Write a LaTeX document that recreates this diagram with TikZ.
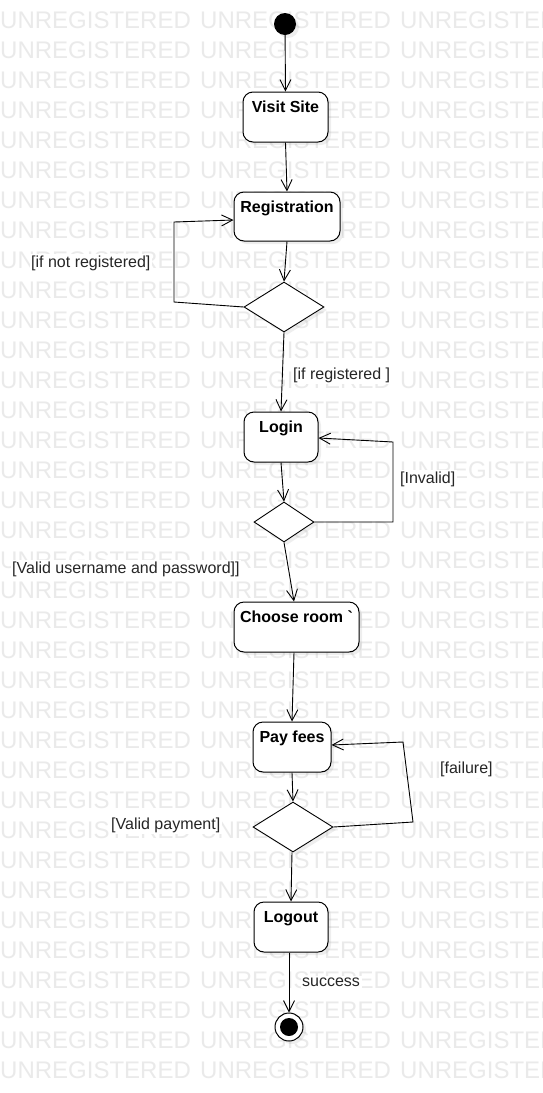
\documentclass[tikz,border=0pt]{standalone}
\usepackage{fontspec}
\setmainfont{Liberation Sans}
\usetikzlibrary{arrows.meta,shapes.geometric,shadows,calc}
\definecolor{wm}{RGB}{234,234,234}
\newcommand{\plaingrave}{\XeTeXglyph\XeTeXcharglyph"0060\relax}
\begin{document}
\begin{tikzpicture}[x=1pt,y=-1pt,
  shade/.style={drop shadow={shadow xshift=3pt,shadow yshift=-3pt,opacity=0.13}},
  act/.style={draw, rounded corners=10pt, fill=white, line width=1pt, inner sep=0pt, shade},
  dec/.style={diamond, draw, fill=white, line width=0.9pt, inner sep=0pt, shade},
  acttext/.style={font=\bfseries\fontsize{16}{19}\selectfont, anchor=base, inner sep=0pt},
  lbl/.style={font=\fontsize{16}{19}\selectfont, anchor=base west, inner sep=1.5pt, fill=white, text=black!85},
  flow/.style={draw, line width=0.9pt, -{Straight Barb[length=11pt,width=11pt,line width=0.9pt]}},
  wmtext/.style={font=\fontsize{24}{28}\selectfont, anchor=base west, inner sep=0pt, text=wm}
]
\useasboundingbox (0,0) rectangle (542,1093);
\fill[white] (0,0) rectangle (542,1093);
% watermark
\begin{scope}
\clip (0,0) rectangle (542,1093);
\foreach \r in {0,...,35}{
  \foreach \c in {0,1,2}{
    \node[wmtext] (wm-\r-\c) at (200*\c,28.5+30*\r) {UNREGISTERED};
  }
}
\end{scope}
% nodes
\node[circle, fill=black, minimum size=22pt, inner sep=0pt, shade] (start) at (285,24) {};
\node[act, minimum width=85pt, minimum height=50pt] (visit) at (285.5,117) {};
\node[acttext] (visitT) at ($(visit.north)+(0,21)$) {Visit Site};
\node[act, minimum width=106pt, minimum height=49pt] (reg) at (287,216.5) {};
\node[acttext] (regT) at ($(reg.north)+(0,21)$) {Registration};
\node[dec, minimum width=80pt, minimum height=50pt] (d1) at (284,307) {};
\node[act, minimum width=74pt, minimum height=50pt] (login) at (281,437) {};
\node[acttext] (loginT) at ($(login.north)+(0,21)$) {Login};
\node[dec, minimum width=60pt, minimum height=40pt] (d2) at (284,522) {};
\node[act, minimum width=125pt, minimum height=50pt] (choose) at (296.5,627) {};
\node[acttext] (chooseT) at ($(choose.north)+(0,21)$) {Choose room \plaingrave};
\node[act, minimum width=78pt, minimum height=50pt] (pay) at (292,747) {};
\node[acttext] (payT) at ($(pay.north)+(0,21)$) {Pay fees};
\node[dec, minimum width=80pt, minimum height=50pt] (d3) at (293,827) {};
\node[act, minimum width=74pt, minimum height=50pt] (logout) at (291,927) {};
\node[acttext] (logoutT) at ($(logout.north)+(0,21)$) {Logout};
\node[circle, draw, fill=white, line width=1pt, minimum size=28pt, inner sep=0pt, shade] (endo) at (289,1027) {};
\node[circle, fill=black, minimum size=18pt, inner sep=0pt] (endi) at (endo.center) {};
% bend coordinates
\coordinate (r1) at (174,302);
\coordinate (r2) at (174,222);
\coordinate (l1) at (393,522);
\coordinate (l2) at (393,442);
\coordinate (p1) at (413,822);
\coordinate (p2) at (403,742);
% connectors
\draw[flow] (start) -- (visit.north);
\draw[flow] (visit.south) -- (reg.north);
\draw[flow] (reg.south) -- (d1.north);
\draw[flow] (d1.west) -- (r1) -- (r2) -- ($(reg.west)+(0,3.5)$);
\draw[flow] (d1.south) -- (login.north);
\draw[flow] (login.south) -- (d2.north);
\draw[flow] (d2.east) -- (l1) -- (l2) -- ($(login.east)+(0,1)$);
\draw[flow] (d2.south) -- ($(choose.north)+(-2.5,0)$);
\draw[flow] ($(choose.south)+(-2.5,0)$) -- (pay.north);
\draw[flow] (pay.south) -- (d3.north);
\draw[flow] (d3.east) -- (p1) -- (p2) -- ($(pay.east)+(0,-2)$);
\draw[flow] ($(d3.south)+(-1,0)$) -- (logout.north);
\draw[flow] ($(logout.south)+(-2,0)$) -- (endo.north);
% labels
\node[lbl] (t1) at (29.5,267) {[if not registered]};
\node[lbl] (t2) at (291.5,379) {[if registered ]};
\node[lbl] (t3) at (398.5,483) {[Invalid]};
\node[lbl] (t4) at (10.5,573) {[Valid username and password]]};
\node[lbl] (t5) at (438.5,773) {[failure]};
\node[lbl] (t6) at (109.5,829) {[Valid payment]};
\node[lbl] (t7) at (300.5,986) {success};
\end{tikzpicture}
\end{document}
